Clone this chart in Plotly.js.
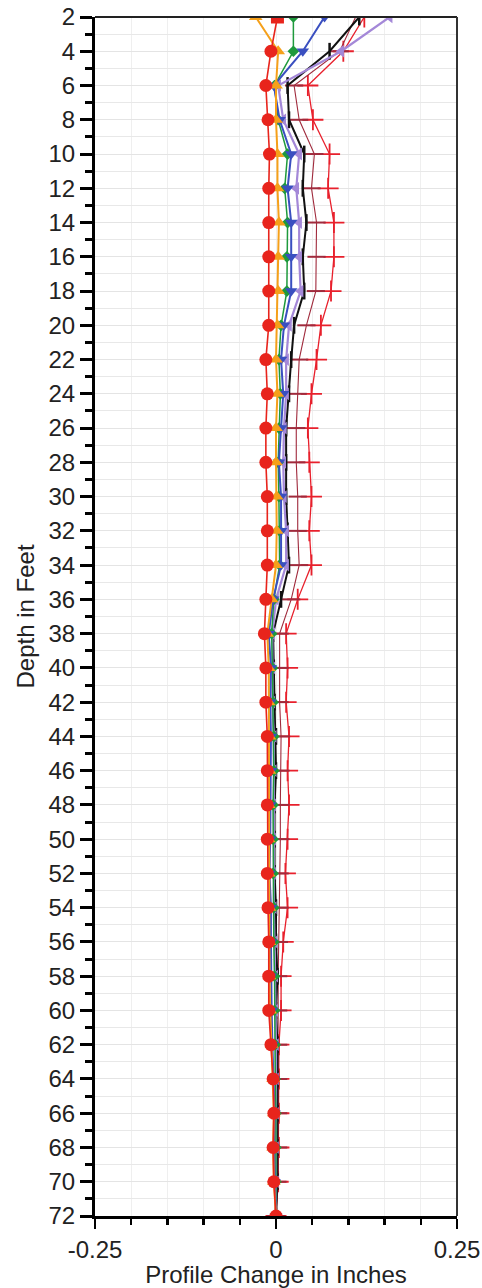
<!DOCTYPE html>
<html>
<head>
<meta charset="utf-8">
<script src="https://cdn.plot.ly/plotly-3.0.1.min.js"></script>
<style>html,body{margin:0;padding:0;background:#fff;}#chart{width:482px;height:1288px;}</style>
</head>
<body>
<div id="chart"></div>
<script>
var depths = [2,4,6,8,10,12,14,16,18,20,22,24,26,28,30,32,34,36,38,40,42,44,46,48,50,52,54,56,58,60,62,64,66,68,70,72];

var redPlus   = [0.122,0.093,0.044,0.051,0.074,0.072,0.080,0.080,0.076,0.062,0.056,0.049,0.044,0.046,0.049,0.046,0.049,0.030,0.014,0.016,0.014,0.018,0.016,0.018,0.016,0.013,0.016,0.010,0.007,0.007,0.004,0.004,0.004,0.004,0.003,0];
var darkRed   = [0.110,0.088,0.025,0.032,0.053,0.049,0.056,0.056,0.055,0.042,0.032,0.030,0.028,0.028,0.030,0.030,0.032,0.021,0.005,0.005,0.005,0.007,0.006,0.006,0.006,0.005,0.005,0.004,0.003,0.003,0.003,0.003,0.003,0.003,0.002,0];
var blackSer  = [0.115,0.074,0.016,0.018,0.039,0.037,0.042,0.037,0.039,0.025,0.021,0.018,0.014,0.014,0.014,0.016,0.018,0.007,-0.004,-0.003,-0.002,0.000,0.000,-0.002,-0.002,-0.002,0.000,0.000,0.002,0.000,0.002,0.002,0.002,0.002,0.002,0];
var purpleSer = [0.157,0.090,0.003,0.010,0.032,0.028,0.032,0.032,0.034,0.018,0.014,0.014,0.011,0.010,0.011,0.014,0.014,0.000,-0.005,-0.005,-0.005,-0.003,-0.003,-0.004,-0.004,-0.004,-0.003,-0.002,-0.001,-0.001,0,0,0,0,0,0];
var blueSer   = [0.067,0.037,-0.003,0.005,0.021,0.016,0.021,0.021,0.021,0.011,0.007,0.010,0.007,0.004,0.007,0.007,0.007,-0.004,-0.010,-0.007,-0.008,-0.007,-0.007,-0.008,-0.008,-0.009,-0.007,-0.007,-0.007,-0.006,-0.005,-0.003,-0.002,-0.003,-0.002,0];
var greenSer  = [0.024,0.024,-0.002,0.003,0.016,0.012,0.016,0.015,0.015,0.007,0.004,0.006,0.004,0.003,0.004,0.005,0.005,-0.003,-0.006,-0.005,-0.004,-0.003,-0.003,-0.004,-0.004,-0.004,-0.003,-0.003,-0.002,-0.002,-0.001,-0.001,0,0,0,0];
var orangeSer = [-0.028,0.003,0.000,0.000,0.002,0.002,0.004,0.003,0.003,0.002,0.000,0.002,0.000,0.000,0.001,0.001,0.000,-0.006,-0.012,-0.010,-0.010,-0.009,-0.009,-0.010,-0.010,-0.010,-0.009,-0.009,-0.009,-0.008,-0.006,-0.004,-0.003,-0.004,-0.003,0];
var redSer    = [0.002,-0.007,-0.014,-0.011,-0.009,-0.010,-0.010,-0.010,-0.010,-0.010,-0.014,-0.012,-0.014,-0.014,-0.012,-0.012,-0.012,-0.014,-0.016,-0.014,-0.014,-0.012,-0.012,-0.012,-0.012,-0.012,-0.011,-0.010,-0.010,-0.010,-0.007,-0.004,-0.003,-0.004,-0.003,0];

var xTickVals = [-0.25, 0, 0.25];
var xTickText = ['-0.25', '0', '0.25'];

function tr(x, color, lw, sym, size, mlw) {
  return {
    x: x, y: depths, type: 'scatter', mode: 'lines+markers', showlegend: false,
    line: {color: color, width: lw},
    marker: {symbol: sym, size: size, color: color, line: {color: color, width: mlw || 0}}
  };
}

var redSymbols = depths.map(function(d, i){ return i === 0 ? 'square' : 'circle'; });

var data = [
  tr(redPlus, '#e8202c', 1.3, 'cross-thin-open', 15, 1.8),
  tr(darkRed, '#a02a3c', 1.1, 'line-ew-open', 13, 2),
  tr(blackSer, '#111111', 2, 'line-ns-open', 12, 2.5),
  tr(purpleSer, '#a488d8', 2.2, 'triangle-left', 11, 0),
  tr(greenSer, '#1e9a3c', 1.5, 'diamond', 9, 0),
  tr(blueSer, '#3a4fc0', 2, 'triangle-down', 11, 0),
  tr(orangeSer, '#f5a01a', 2, 'triangle-up', 12, 0),
  tr(redSer, '#e8241c', 1.6, redSymbols, 13, 0)
];

var layout = {
  width: 482, height: 1288,
  margin: {l: 95, r: 25, t: 17, b: 72},
  paper_bgcolor: '#ffffff', plot_bgcolor: '#ffffff',
  font: {family: 'Liberation Sans, Arial, sans-serif', size: 24, color: '#222222'},
  xaxis: {
    range: [-0.25, 0.25],
    tickmode: 'array', tickvals: xTickVals, ticktext: xTickText,
    ticks: 'outside', ticklen: 10, tickwidth: 2.5, tickcolor: '#000',
    showline: true, linecolor: '#000', linewidth: 3,
    showgrid: false, zeroline: false,
    minor: {tickmode: 'linear', tick0: 0, dtick: 0.05, ticks: 'outside', ticklen: 6, tickwidth: 2.5, tickcolor: '#000', showgrid: true, gridcolor: '#efefef', gridwidth: 1},
    tickfont: {size: 24, color: '#222'},
    title: {text: 'Profile Change in Inches', font: {size: 24, color: '#222'}, standoff: 4}
  },
  yaxis: {
    range: [72, 2],
    tickmode: 'linear', tick0: 2, dtick: 2,
    ticks: 'outside', ticklen: 12, tickwidth: 3, tickcolor: '#000',
    showline: true, linecolor: '#000', linewidth: 3,
    showgrid: true, gridcolor: '#e4e4e4', gridwidth: 1, zeroline: false,
    minor: {tickmode: 'linear', tick0: 1, dtick: 1, ticks: 'outside', ticklen: 7, tickwidth: 3, tickcolor: '#000', showgrid: true, gridcolor: '#e8e8e8', gridwidth: 1},
    tickfont: {size: 24, color: '#222'},
    title: {text: 'Depth in Feet', font: {size: 24, color: '#222'}, standoff: 8}
  },
  shapes: [
    {type: 'line', xref: 'paper', yref: 'paper', x0: 0, x1: 1, y0: 1, y1: 1, line: {color: '#222', width: 2}},
    {type: 'line', xref: 'paper', yref: 'paper', x0: 1, x1: 1, y0: 0, y1: 1, line: {color: '#333', width: 2}}
  ]
};

Plotly.newPlot('chart', data, layout, {displayModeBar: false, staticPlot: true});
</script>
</body>
</html>
